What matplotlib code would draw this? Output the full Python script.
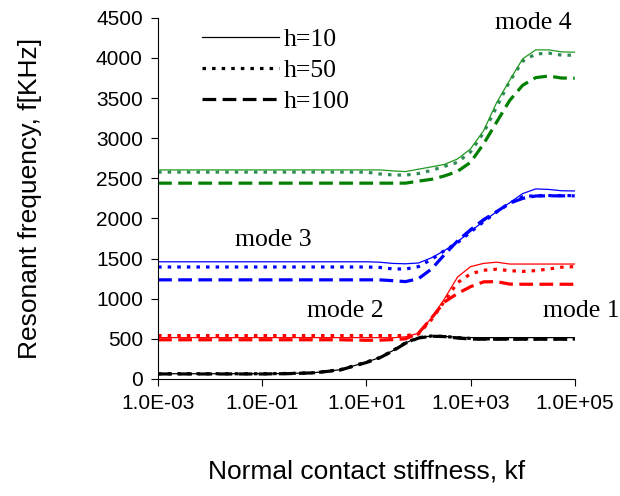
import matplotlib
matplotlib.use("Agg")
import matplotlib.pyplot as plt
from matplotlib.lines import Line2D

# normal contact stiffness: half decades up to 1e1, quarter decades after
kf = [1e-3, 3.16e-3, 1e-2, 3.16e-2, 1e-1, 3.16e-1, 1.0, 3.16,
      10, 17.8, 31.6, 56.2, 100, 178, 316, 562, 1000, 1780, 3160, 5620,
      1e4, 1.78e4, 3.16e4, 5.62e4, 1e5]

# mode 1
m1_h10 = [65, 65, 65, 65, 65, 68, 78, 115,
          210, 265, 350, 450, 515, 535, 530, 520, 515, 515, 515, 515, 515, 515, 515, 515, 515]
m1_h50 = [65, 65, 65, 65, 65, 68, 78, 115,
          210, 265, 350, 450, 515, 535, 530, 515, 505, 500, 500, 500, 500, 500, 500, 500, 500]
m1_h100 = [62, 62, 62, 62, 62, 66, 76, 112,
           205, 262, 345, 445, 510, 532, 528, 510, 497, 495, 495, 495, 495, 495, 495, 495, 495]

# mode 2
m2_h10 = [515, 515, 515, 515, 515, 515, 515, 515,
          515, 515, 513, 525, 570, 760, 1000, 1270, 1400, 1440, 1455, 1432, 1432, 1432, 1432, 1432, 1432]
m2_h50 = [540, 540, 540, 540, 540, 540, 540, 540,
          540, 540, 540, 540, 560, 740, 970, 1200, 1310, 1355, 1367, 1350, 1340, 1350, 1370, 1393, 1400]
m2_h100 = [488, 488, 488, 488, 488, 488, 488, 488,
           482, 483, 490, 500, 570, 760, 960, 1065, 1150, 1210, 1213, 1182, 1180, 1180, 1180, 1180, 1180]

# mode 3
m3_h10 = [1460, 1460, 1460, 1460, 1460, 1460, 1460, 1460,
          1460, 1455, 1440, 1435, 1445, 1510, 1600, 1710, 1840, 1965, 2085, 2195, 2310, 2368, 2362, 2345, 2343]
m3_h50 = [1395, 1395, 1395, 1395, 1395, 1395, 1395, 1395,
          1395, 1390, 1372, 1370, 1400, 1490, 1600, 1700, 1830, 1960, 2080, 2190, 2270, 2285, 2285, 2285, 2285]
m3_h100 = [1235, 1235, 1235, 1235, 1235, 1235, 1235, 1235,
           1235, 1235, 1225, 1213, 1250, 1370, 1550, 1720, 1860, 1985, 2085, 2190, 2250, 2280, 2282, 2282, 2282]

# mode 4
m4_h10 = [2605, 2605, 2605, 2605, 2605, 2605, 2605, 2605,
          2605, 2605, 2593, 2584, 2614, 2643, 2674, 2742, 2867, 3094, 3443, 3721, 3989, 4101, 4101, 4076, 4072]
m4_h50 = [2578, 2578, 2578, 2578, 2578, 2578, 2578, 2578,
          2577, 2555, 2543, 2540, 2560, 2600, 2650, 2700, 2830, 3070, 3390, 3708, 3960, 4050, 4060, 4035, 4035]
m4_h100 = [2440, 2440, 2440, 2440, 2440, 2440, 2440, 2440,
           2440, 2440, 2440, 2440, 2465, 2488, 2530, 2587, 2700, 2930, 3200, 3470, 3660, 3755, 3775, 3750, 3748]

yticks = [0, 500, 1000, 1500, 2000, 2500, 3000, 3500, 4000, 4500]
xticks = [1e-3, 1e-1, 1e1, 1e3, 1e5]
xticklabels = ["1.0E-03", "1.0E-01", "1.0E+01", "1.0E+03", "1.0E+05"]

SOLID = dict(linestyle="-", linewidth=0.9)
DOTTED = dict(linestyle=(0, (1.1, 1.9)), linewidth=2.3)
DASHED = dict(linestyle=(0, (4.3, 2.0)), linewidth=2.3)

fig = plt.figure(figsize=(6.2, 4.96), dpi=100)
ax = fig.add_axes([0.255, 0.236, 0.672, 0.728])

groups = [
    (m1_h10, m1_h50, m1_h100, ("black", "black", "black")),
    (m2_h10, m2_h50, m2_h100, ("#ff0000", "#ff0000", "#ff0000")),
    (m3_h10, m3_h50, m3_h100, ("#0000ff", "#0000ff", "#0000ff")),
    (m4_h10, m4_h50, m4_h100, ("#229922", "#2e8b57", "#008000")),
]
for h10, h50, h100, cols in groups:
    ax.plot(kf, h100, color=cols[2], **DASHED)
    ax.plot(kf, h50, color=cols[1], **DOTTED)
    ax.plot(kf, h10, color=cols[0], **SOLID)

ax.set_xscale("log")
ax.set_xlim(1e-3, 1e5)
ax.set_ylim(0, 4500)
ax.set_xticks(xticks)
ax.set_xticklabels(xticklabels)
ax.minorticks_off()
ax.set_yticks(yticks)
for sp in ["top", "right"]:
    ax.spines[sp].set_visible(False)
ax.tick_params(direction="out", length=5, width=0.8, labelsize=15, pad=6)
for lab in ax.get_xticklabels() + ax.get_yticklabels():
    lab.set_fontfamily("Liberation Sans")

ax.set_xlabel("Normal contact stiffness, kf", fontsize=19, family="Liberation Sans", labelpad=33)
ax.set_ylabel("Resonant frequency, f[KHz]", fontsize=19, family="Liberation Sans", labelpad=39)

serif = dict(fontsize=18.5, family="Liberation Serif", ha="center", va="center")
ax.text(10**4.2, 4440, "mode 4", **serif)
ax.text(10**-0.79, 1733, "mode 3", **serif)
ax.text(10**0.59, 848, "mode 2", **serif)
ax.text(10**5.12, 848, "mode 1", clip_on=False, **serif)

handles = [
    Line2D([], [], color="black", **SOLID),
    Line2D([], [], color="black", **DOTTED),
    Line2D([], [], color="black", **DASHED),
]
ax.legend(handles, ["h=10", "h=50", "h=100"], loc="upper left",
          bbox_to_anchor=(0.08, 1.0), frameon=False, handlelength=3.0,
          handletextpad=0.2, labelspacing=0.3, borderaxespad=0.0,
          prop={"family": "Liberation Serif", "size": 18.5})

fig.savefig("out.png", dpi=100)
